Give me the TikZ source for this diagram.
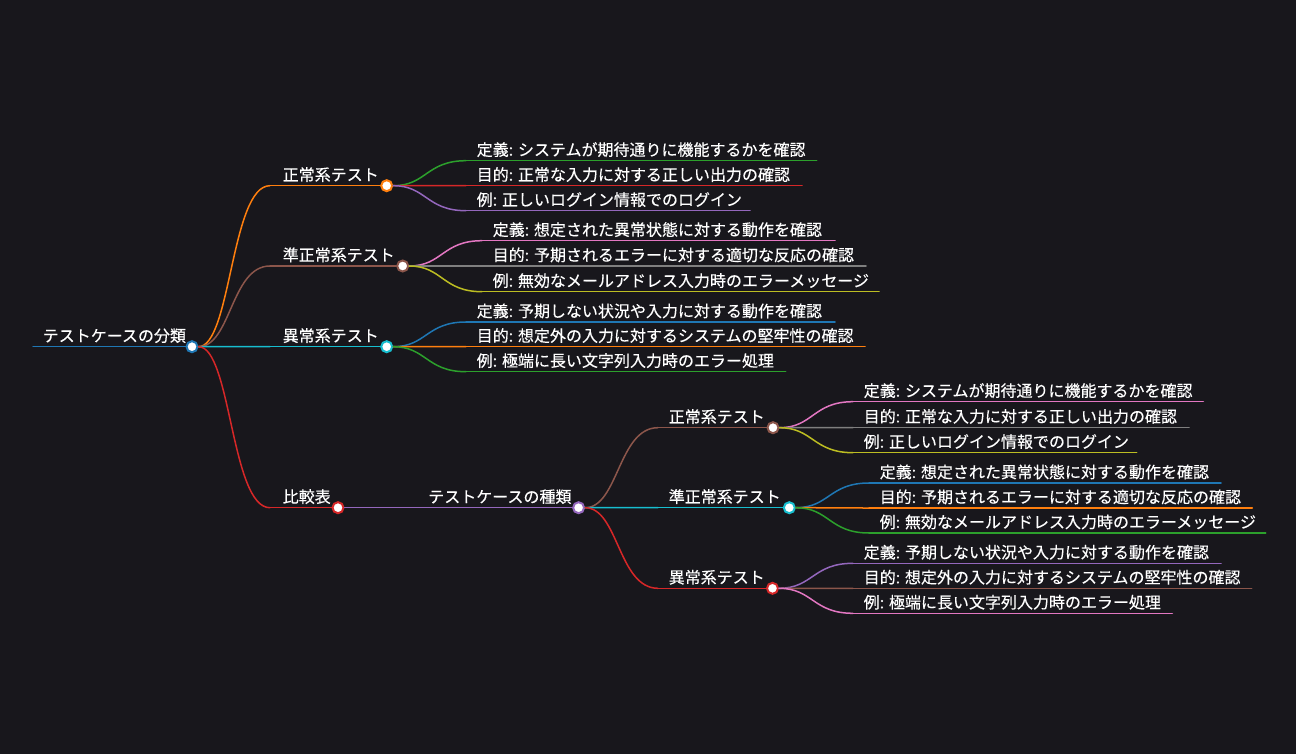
\documentclass[tikz,border=0pt]{standalone}
\usepackage{fontspec}
\setmainfont{Noto Sans CJK JP}[FakeBold=0.3]
\usepackage{tikz}
\usetikzlibrary{calc}

\definecolor{bg}{RGB}{24,23,28}
\definecolor{cblue}{HTML}{1F77B4}
\definecolor{corange}{HTML}{FF7F0E}
\definecolor{cgreen}{HTML}{2CA02C}
\definecolor{cred}{HTML}{D62728}
\definecolor{cpurple}{HTML}{9467BD}
\definecolor{cbrown}{HTML}{8C564B}
\definecolor{cpink}{HTML}{E377C2}
\definecolor{cgray}{HTML}{7F7F7F}
\definecolor{colive}{HTML}{BCBD22}
\definecolor{ccyan}{HTML}{17BECF}

\begin{document}
\begin{tikzpicture}[x=1pt,y=-1pt,line width=1.5pt,line cap=round,
  every node/.style={text=white,font=\fontsize{16}{19}\selectfont},
  topic/.style={anchor=base west,inner sep=0pt},
  dot/.style={circle,draw=#1,fill=white,line width=2pt,minimum size=11pt,inner sep=0pt},
  mmlink/.style={to path={.. controls ($(\tikztostart)!0.5!(\tikztostart -| \tikztotarget)$) and ($(\tikztotarget)!0.5!(\tikztotarget -| \tikztostart)$) .. (\tikztotarget)}}]
\useasboundingbox (0,0) rectangle (1296,754);
\fill[bg] (0,0) rectangle (1296,754);

% root
\coordinate (root-in) at (33,346.7);
\node[dot=cblue] (root) at (192,346.7) {};
\node[topic] at ([xshift=9pt,yshift=5pt]root-in) {テストケースの分類};

% first level
\coordinate (seijo-in) at (270,185.7);
\node[dot=corange] (seijo) at (386.7,185.7) {};
\node[topic] at ([xshift=12pt,yshift=5pt]seijo-in) {正常系テスト};
\coordinate (junseijo-in) at (270,266);
\node[dot=cbrown] (junseijo) at (402.7,266) {};
\node[topic] at ([xshift=12pt,yshift=5pt]junseijo-in) {準正常系テスト};
\coordinate (ijo-in) at (270,346.7);
\node[dot=ccyan] (ijo) at (386.7,346.7) {};
\node[topic] at ([xshift=12pt,yshift=5pt]ijo-in) {異常系テスト};
\coordinate (hikaku-in) at (270,507.7);
\node[dot=cred] (hikaku) at (338,507.7) {};
\node[topic] at ([xshift=12pt,yshift=5pt]hikaku-in) {比較表};

% leaves of seijo
\coordinate (seijo-def-in) at (466,160.7);  \coordinate (seijo-def-end) at (816.7,160.7);
\coordinate (seijo-aim-in) at (466,185.7);  \coordinate (seijo-aim-end) at (802,185.7);
\coordinate (seijo-ex-in) at (466,210.7);   \coordinate (seijo-ex-end) at (750,210.7);
\node[topic] at ([xshift=10pt,yshift=5pt]seijo-def-in) {定義: システムが期待通りに機能するかを確認};
\node[topic] at ([xshift=10pt,yshift=5pt]seijo-aim-in) {目的: 正常な入力に対する正しい出力の確認};
\node[topic] at ([xshift=10pt,yshift=5pt]seijo-ex-in) {例: 正しいログイン情報でのログイン};

% leaves of junseijo
\coordinate (junseijo-def-in) at (482,240.7); \coordinate (junseijo-def-end) at (835,240.7);
\coordinate (junseijo-aim-in) at (482,266);   \coordinate (junseijo-aim-end) at (866,266);
\coordinate (junseijo-ex-in) at (482,291.7);  \coordinate (junseijo-ex-end) at (879,291.7);
\node[topic] at ([xshift=10pt,yshift=5pt]junseijo-def-in) {定義: 想定された異常状態に対する動作を確認};
\node[topic] at ([xshift=10pt,yshift=5pt]junseijo-aim-in) {目的: 予期されるエラーに対する適切な反応の確認};
\node[topic] at ([xshift=10pt,yshift=5pt]junseijo-ex-in) {例: 無効なメールアドレス入力時のエラーメッセージ};

% leaves of ijo
\coordinate (ijo-def-in) at (466,322);   \coordinate (ijo-def-end) at (835,322);
\coordinate (ijo-aim-in) at (466,346.7); \coordinate (ijo-aim-end) at (865,346.7);
\coordinate (ijo-ex-in) at (466,371.7);  \coordinate (ijo-ex-end) at (785.7,371.7);
\node[topic] at ([xshift=10pt,yshift=5pt]ijo-def-in) {定義: 予期しない状況や入力に対する動作を確認};
\node[topic] at ([xshift=10pt,yshift=5pt]ijo-aim-in) {目的: 想定外の入力に対するシステムの堅牢性の確認};
\node[topic] at ([xshift=10pt,yshift=5pt]ijo-ex-in) {例: 極端に長い文字列入力時のエラー処理};

% comparison branch
\coordinate (shurui-in) at (418,507.7);
\node[dot=cpurple] (shurui) at (578.6,507.7) {};
\node[topic] at ([xshift=9.5pt,yshift=5pt]shurui-in) {テストケースの種類};
\coordinate (k-seijo-in) at (658,427.7);
\node[dot=cbrown] (k-seijo) at (773,427.7) {};
\node[topic] at ([xshift=10pt,yshift=5pt]k-seijo-in) {正常系テスト};
\coordinate (k-junseijo-in) at (658,507.7);
\node[dot=ccyan] (k-junseijo) at (789.3,507.7) {};
\node[topic] at ([xshift=10pt,yshift=5pt]k-junseijo-in) {準正常系テスト};
\coordinate (k-ijo-in) at (658,588.3);
\node[dot=cred] (k-ijo) at (772.5,588.3) {};
\node[topic] at ([xshift=10pt,yshift=5pt]k-ijo-in) {異常系テスト};

\coordinate (k-seijo-def-in) at (853,401.7); \coordinate (k-seijo-def-end) at (1203.3,401.7);
\coordinate (k-seijo-aim-in) at (853,427.5); \coordinate (k-seijo-aim-end) at (1189,427.5);
\coordinate (k-seijo-ex-in) at (853,452.7);  \coordinate (k-seijo-ex-end) at (1136.7,452.7);
\node[topic] at ([xshift=10pt,yshift=5pt]k-seijo-def-in) {定義: システムが期待通りに機能するかを確認};
\node[topic] at ([xshift=10pt,yshift=5pt]k-seijo-aim-in) {目的: 正常な入力に対する正しい出力の確認};
\node[topic] at ([xshift=10pt,yshift=5pt]k-seijo-ex-in) {例: 正しいログイン情報でのログイン};

\coordinate (k-junseijo-def-in) at (869,483); \coordinate (k-junseijo-def-end) at (1221,483);
\coordinate (k-junseijo-aim-in) at (869,508); \coordinate (k-junseijo-aim-end) at (1252.3,508);
\coordinate (k-junseijo-ex-in) at (869,533);  \coordinate (k-junseijo-ex-end) at (1265.7,533);
\node[topic] at ([xshift=10pt,yshift=5pt]k-junseijo-def-in) {定義: 想定された異常状態に対する動作を確認};
\node[topic] at ([xshift=10pt,yshift=5pt]k-junseijo-aim-in) {目的: 予期されるエラーに対する適切な反応の確認};
\node[topic] at ([xshift=10pt,yshift=5pt]k-junseijo-ex-in) {例: 無効なメールアドレス入力時のエラーメッセージ};

\coordinate (k-ijo-def-in) at (853,563.3); \coordinate (k-ijo-def-end) at (1221,563.3);
\coordinate (k-ijo-aim-in) at (853,588.3); \coordinate (k-ijo-aim-end) at (1251.7,588.3);
\coordinate (k-ijo-ex-in) at (853,613.3);  \coordinate (k-ijo-ex-end) at (1172.3,613.3);
\node[topic] at ([xshift=10pt,yshift=5pt]k-ijo-def-in) {定義: 予期しない状況や入力に対する動作を確認};
\node[topic] at ([xshift=10pt,yshift=5pt]k-ijo-aim-in) {目的: 想定外の入力に対するシステムの堅牢性の確認};
\node[topic] at ([xshift=10pt,yshift=5pt]k-ijo-ex-in) {例: 極端に長い文字列入力時のエラー処理};

\path (root-in)  edge[cblue] (root)
      (root)     edge[mmlink,corange] (seijo-in)
      (seijo-in) edge[corange] (seijo)
      (root)     edge[mmlink,cbrown] (junseijo-in)
      (junseijo-in) edge[cbrown] (junseijo)
      (root)     edge[mmlink,ccyan] (ijo-in)
      (ijo-in)   edge[ccyan] (ijo)
      (root)     edge[mmlink,cred] (hikaku-in)
      (hikaku-in) edge[cred] (hikaku)
      % seijo
      (seijo) edge[mmlink,cgreen] (seijo-def-in)  (seijo-def-in) edge[cgreen] (seijo-def-end)
      (seijo) edge[mmlink,cred] (seijo-aim-in)    (seijo-aim-in) edge[cred] (seijo-aim-end)
      (seijo) edge[mmlink,cpurple] (seijo-ex-in)  (seijo-ex-in) edge[cpurple] (seijo-ex-end)
      % junseijo
      (junseijo) edge[mmlink,cpink] (junseijo-def-in)  (junseijo-def-in) edge[cpink] (junseijo-def-end)
      (junseijo) edge[mmlink,cgray] (junseijo-aim-in)  (junseijo-aim-in) edge[cgray] (junseijo-aim-end)
      (junseijo) edge[mmlink,colive] (junseijo-ex-in)  (junseijo-ex-in) edge[colive] (junseijo-ex-end)
      % ijo
      (ijo) edge[mmlink,cblue] (ijo-def-in)     (ijo-def-in) edge[cblue] (ijo-def-end)
      (ijo) edge[mmlink,corange] (ijo-aim-in)   (ijo-aim-in) edge[corange] (ijo-aim-end)
      (ijo) edge[mmlink,cgreen] (ijo-ex-in)     (ijo-ex-in) edge[cgreen] (ijo-ex-end)
      % comparison
      (hikaku) edge[cpurple] (shurui-in)  (shurui-in) edge[cpurple] (shurui)
      (shurui) edge[mmlink,cbrown] (k-seijo-in)    (k-seijo-in) edge[cbrown] (k-seijo)
      (shurui) edge[mmlink,ccyan] (k-junseijo-in)  (k-junseijo-in) edge[ccyan] (k-junseijo)
      (shurui) edge[mmlink,cred] (k-ijo-in)        (k-ijo-in) edge[cred] (k-ijo)
      (k-seijo) edge[mmlink,cpink] (k-seijo-def-in)  (k-seijo-def-in) edge[cpink] (k-seijo-def-end)
      (k-seijo) edge[mmlink,cgray] (k-seijo-aim-in)  (k-seijo-aim-in) edge[cgray] (k-seijo-aim-end)
      (k-seijo) edge[mmlink,colive] (k-seijo-ex-in)  (k-seijo-ex-in) edge[colive] (k-seijo-ex-end)
      (k-junseijo) edge[mmlink,cblue] (k-junseijo-def-in)    (k-junseijo-def-in) edge[cblue] (k-junseijo-def-end)
      (k-junseijo) edge[mmlink,corange] (k-junseijo-aim-in)  (k-junseijo-aim-in) edge[corange] (k-junseijo-aim-end)
      (k-junseijo) edge[mmlink,cgreen] (k-junseijo-ex-in)    (k-junseijo-ex-in) edge[cgreen] (k-junseijo-ex-end)
      (k-ijo) edge[mmlink,cpurple] (k-ijo-def-in)  (k-ijo-def-in) edge[cpurple] (k-ijo-def-end)
      (k-ijo) edge[mmlink,cbrown] (k-ijo-aim-in)   (k-ijo-aim-in) edge[cbrown] (k-ijo-aim-end)
      (k-ijo) edge[mmlink,cpink] (k-ijo-ex-in)     (k-ijo-ex-in) edge[cpink] (k-ijo-ex-end);

\end{tikzpicture}
\end{document}
